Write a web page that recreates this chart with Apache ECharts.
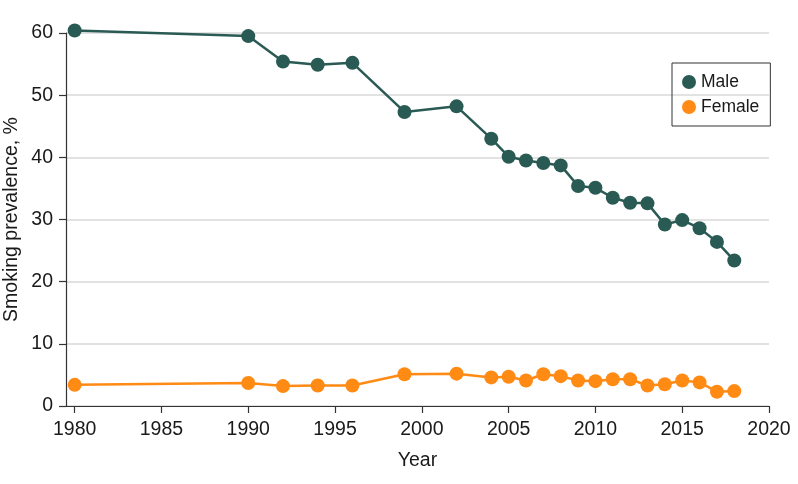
<!DOCTYPE html>
<html>
<head>
<meta charset="utf-8">
<script src="https://cdn.jsdelivr.net/npm/echarts@6/dist/echarts.min.js"></script>
<style>
html,body{margin:0;padding:0;background:#fff;}
#chart{width:798px;height:484px;}
</style>
</head>
<body>
<div id="chart"></div>
<script>
const years = [1980, 1990, 1992, 1994, 1996, 1999, 2002, 2004, 2005, 2006, 2007, 2008, 2009, 2010, 2011, 2012, 2013, 2014, 2015, 2016, 2017, 2018];
const maleValues = [60.4, 59.5, 55.4, 54.9, 55.2, 47.3, 48.2, 43.0, 40.1, 39.5, 39.1, 38.7, 35.4, 35.1, 33.5, 32.7, 32.6, 29.2, 29.9, 28.6, 26.4, 23.4];
const femaleValues = [3.4, 3.7, 3.2, 3.3, 3.3, 5.1, 5.2, 4.6, 4.7, 4.1, 5.1, 4.8, 4.1, 4.0, 4.3, 4.3, 3.3, 3.5, 4.1, 3.8, 2.3, 2.4];
const xTicks = [1980, 1985, 1990, 1995, 2000, 2005, 2010, 2015, 2020];
const yTicks = [0, 10, 20, 30, 40, 50, 60];

const FONT = '"Liberation Sans", Arial, sans-serif';
const TXT = '#1a1a1a';
const MALE = '#2a5a54';
const FEMALE = '#ff8a14';

const chart = echarts.init(document.getElementById('chart'), null, {renderer: 'canvas'});
chart.setOption({
  animation: false,
  backgroundColor: '#ffffff',
  textStyle: {fontFamily: FONT, color: TXT},
  grid: {left: 66, right: 29, top: 33, bottom: 78, containLabel: false, outerBoundsMode: 'none'},
  legend: {
    orient: 'vertical',
    left: 672,
    top: 63,
    padding: [10, 11, 10, 10],
    itemGap: 7,
    itemWidth: 14,
    itemHeight: 14,
    borderColor: '#333',
    borderWidth: 1,
    icon: 'circle',
    textStyle: {fontFamily: FONT, fontSize: 17.5, color: TXT},
    data: ['Male', 'Female']
  },
  xAxis: {
    type: 'value',
    min: 1979.5,
    max: 2020,
    name: 'Year',
    nameLocation: 'middle',
    nameGap: 45,
    nameMoveOverlap: false,
    nameTextStyle: {fontFamily: FONT, fontSize: 19.5, color: TXT},
    axisLine: {show: true, onZero: false, lineStyle: {color: '#333', width: 1.2}},
    axisTick: {show: true, length: 7, lineStyle: {color: '#333', width: 1.2}, customValues: xTicks},
    axisLabel: {fontFamily: FONT, fontSize: 19.5, color: TXT, margin: 14, customValues: xTicks, formatter: v => String(v)},
    splitLine: {show: false}
  },
  yAxis: {
    type: 'value',
    min: 0,
    max: 60,
    interval: 10,
    name: 'Smoking prevalence, %',
    nameLocation: 'middle',
    nameGap: 44,
    nameMoveOverlap: false,
    nameTextStyle: {fontFamily: FONT, fontSize: 19.5, color: TXT},
    axisLine: {show: true, lineStyle: {color: '#333', width: 1.2}},
    axisTick: {show: true, length: 7, lineStyle: {color: '#333', width: 1.2}, customValues: yTicks},
    axisLabel: {fontFamily: FONT, fontSize: 19.5, color: TXT, margin: 13, customValues: yTicks},
    splitLine: {show: true, lineStyle: {color: '#d9d9d9', width: 1.5}}
  },
  series: [
    {
      name: 'Male',
      type: 'line',
      clip: false,
      data: years.map((y, i) => [y, maleValues[i]]),
      symbol: 'circle',
      symbolSize: 14,
      lineStyle: {color: MALE, width: 2.5},
      itemStyle: {color: MALE},
      z: 3
    },
    {
      name: 'Female',
      type: 'line',
      clip: false,
      data: years.map((y, i) => [y, femaleValues[i]]),
      symbol: 'circle',
      symbolSize: 14,
      lineStyle: {color: FEMALE, width: 2.5},
      itemStyle: {color: FEMALE},
      z: 3
    }
  ]
});
</script>
</body>
</html>
